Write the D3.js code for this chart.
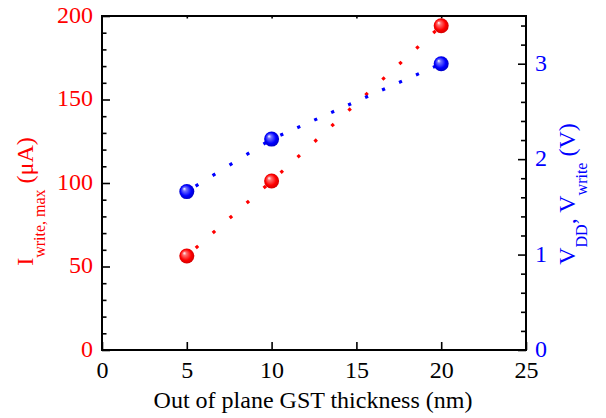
<!DOCTYPE html>
<html>
<head>
<meta charset="utf-8">
<script src="https://cdn.jsdelivr.net/npm/d3@7"></script>
<style>
  html, body { margin: 0; padding: 0; background: #fff; }
  svg { display: block; }
  text { font-family: "Liberation Serif", "Times New Roman", serif; }
</style>
</head>
<body>
<svg id="chart" width="606" height="418"></svg>
<script>
// Out-of-plane GST thickness (nm)
const thickness = [5, 10, 20];
// Maximum write current (µA), left axis
const iWriteMax = [56.3, 101.2, 194.2];
// Supply / write voltage (V), right axis
const vWrite = [1.66, 2.21, 3.00];

const xTicks = [0, 5, 10, 15, 20, 25];
const leftTicks = [0, 50, 100, 150, 200];
const rightTicks = [0, 1, 2, 3];

const svg = d3.select("#chart");
const box = { left: 102, right: 526, top: 16, bottom: 350 };

const x = d3.scaleLinear().domain([0, 25]).range([box.left, box.right]);
const yL = d3.scaleLinear().domain([0, 200]).range([box.bottom, box.top]);
const yR = d3.scaleLinear().domain([0, 3.5]).range([box.bottom, box.top]);

const RED = "#ff0000", BLUE = "#0000ff";

// sphere-like marker gradients
const defs = svg.append("defs");
function sphere(id, light, base, dark) {
  const g = defs.append("radialGradient").attr("id", id)
    .attr("cx", "50%").attr("cy", "50%").attr("r", "55%")
    .attr("fx", "32%").attr("fy", "30%");
  g.append("stop").attr("offset", "0%").attr("stop-color", "#ffffff");
  g.append("stop").attr("offset", "22%").attr("stop-color", light);
  g.append("stop").attr("offset", "65%").attr("stop-color", base);
  g.append("stop").attr("offset", "100%").attr("stop-color", dark);
}
sphere("ballRed", "#ff7070", "#ff0000", "#c80000");
sphere("ballBlue", "#7070ff", "#0000ff", "#0000b8");

// ---- axes ----
const fontSize = 24;

function styleAxis(g, color) {
  g.select(".domain").remove();
  g.selectAll(".tick line").attr("stroke", "#000").attr("stroke-width", 1.6);
  g.selectAll(".tick text").attr("fill", color).attr("font-size", fontSize)
    .attr("font-family", "Liberation Serif, Times New Roman, serif");
}

// bottom
const gx = svg.append("g").attr("transform", `translate(0,${box.bottom})`)
  .call(d3.axisBottom(x).tickValues(xTicks).tickSize(-8).tickPadding(11).tickFormat(d3.format("d")));
styleAxis(gx, "#000");
// top (ticks only)
const gxt = svg.append("g").attr("transform", `translate(0,${box.top})`)
  .call(d3.axisTop(x).tickValues(xTicks.slice(1, -1)).tickSize(-2.5).tickFormat(""));
styleAxis(gxt, "#000");

// left major + minor
const gl = svg.append("g").attr("transform", `translate(${box.left},0)`)
  .call(d3.axisLeft(yL).tickValues(leftTicks).tickSize(-8).tickPadding(9).tickFormat(d3.format("d")));
styleAxis(gl, RED);
gl.selectAll(".tick text").attr("dy", "0.27em");
const leftMinor = d3.range(10, 200, 10).filter(v => v % 50 !== 0);
const glm = svg.append("g").attr("transform", `translate(${box.left},0)`)
  .call(d3.axisLeft(yL).tickValues(leftMinor).tickSize(-4.5).tickFormat(""));
styleAxis(glm, RED);

// right major + minor
const gr = svg.append("g").attr("transform", `translate(${box.right},0)`)
  .call(d3.axisRight(yR).tickValues(rightTicks).tickSize(-8).tickPadding(9).tickFormat(d3.format("d")));
styleAxis(gr, BLUE);
gr.selectAll(".tick text").attr("dy", "0.27em");
const rightMinor = d3.range(1, 18).map(i => +(i * 0.2).toFixed(1)).filter(v => Math.abs(v - Math.round(v)) > 1e-6);
const grm = svg.append("g").attr("transform", `translate(${box.right},0)`)
  .call(d3.axisRight(yR).tickValues(rightMinor).tickSize(-5).tickFormat(""));
styleAxis(grm, BLUE);

// frame
svg.append("rect")
  .attr("x", box.left).attr("y", box.top)
  .attr("width", box.right - box.left).attr("height", box.bottom - box.top)
  .attr("fill", "none").attr("stroke", "#000").attr("stroke-width", 2);

// ---- dotted connecting lines: one dot per nm of thickness ----
function dottedSegments(xs, ys, yScale, color) {
  const g = svg.append("g");
  for (let i = 0; i < xs.length - 1; i++) {
    const x0 = x(xs[i]), y0 = yScale(ys[i]);
    const x1 = x(xs[i + 1]), y1 = yScale(ys[i + 1]);
    const len = Math.hypot(x1 - x0, y1 - y0);
    const period = len / (xs[i + 1] - xs[i]);
    const dash = 3.2;
    const start = 0.6 * period - dash / 2;
    g.append("line")
      .attr("x1", x0).attr("y1", y0).attr("x2", x1).attr("y2", y1)
      .attr("stroke", color).attr("stroke-width", 3.2)
      .attr("stroke-dasharray", `${dash} ${period - dash}`)
      .attr("stroke-dashoffset", period - start);
  }
}
dottedSegments(thickness, iWriteMax, yL, RED);
dottedSegments(thickness, vWrite, yR, BLUE);

// ---- markers ----
svg.append("g").selectAll("circle").data(thickness.map((t, i) => [t, iWriteMax[i]]))
  .join("circle")
  .attr("cx", d => x(d[0])).attr("cy", d => yL(d[1])).attr("r", 7.5)
  .attr("fill", "url(#ballRed)");
svg.append("g").selectAll("circle").data(thickness.map((t, i) => [t, vWrite[i]]))
  .join("circle")
  .attr("cx", d => x(d[0])).attr("cy", d => yR(d[1])).attr("r", 7.5)
  .attr("fill", "url(#ballBlue)");

// ---- axis titles ----
svg.append("text")
  .attr("x", 313).attr("y", 408)
  .attr("text-anchor", "middle").attr("font-size", fontSize).attr("fill", "#000")
  .text("Out of plane GST thickness (nm)");

const subSize = 16, subShift = 12;

const lt = svg.append("text")
  .attr("transform", "translate(33,201.5) rotate(-90)")
  .attr("text-anchor", "middle").attr("font-size", fontSize).attr("fill", RED);
lt.append("tspan").text("I");
lt.append("tspan").attr("font-size", subSize).attr("dy", subShift).text("write, max");
lt.append("tspan").attr("dy", -subShift).text("\u00a0(\u03bcA)");

const rt = svg.append("text")
  .attr("transform", "translate(575,194) rotate(-90)")
  .attr("text-anchor", "middle").attr("font-size", fontSize).attr("fill", BLUE);
rt.append("tspan").text("V");
rt.append("tspan").attr("font-size", subSize).attr("dy", subShift).text("DD");
rt.append("tspan").attr("dy", -subShift).text(", V");
rt.append("tspan").attr("font-size", subSize).attr("dy", subShift).text("write");
rt.append("tspan").attr("dy", -subShift).text("\u00a0(V)");
</script>
</body>
</html>
